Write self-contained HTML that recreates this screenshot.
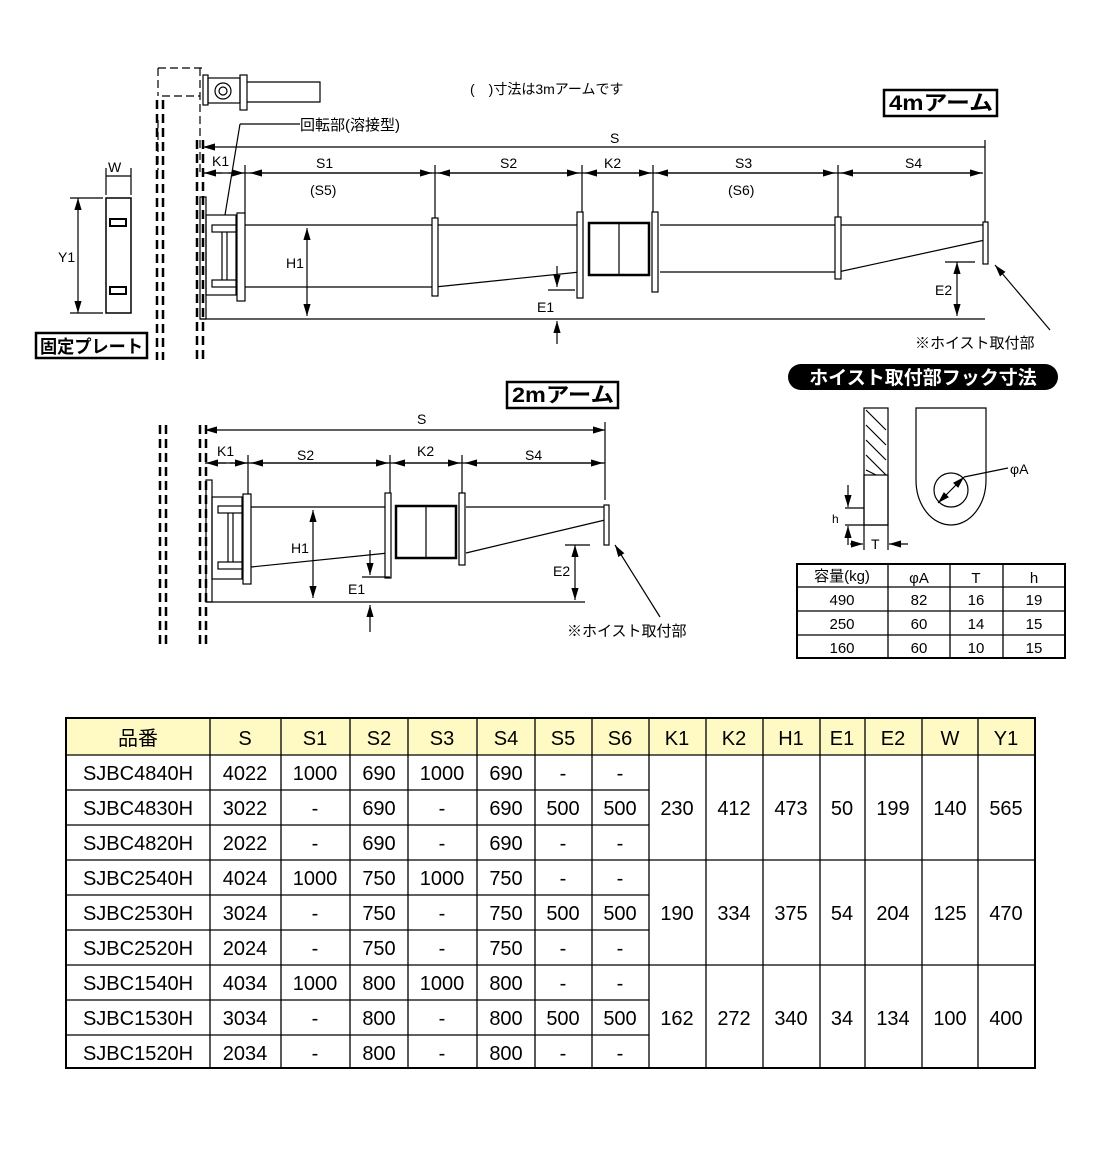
<!DOCTYPE html><html><head><meta charset="utf-8"><style>
body{margin:0;background:#fff;width:1100px;height:1150px;overflow:hidden}
svg text{font-family:"Liberation Sans","Noto Sans CJK JP",sans-serif;fill:#000}
</style></head><body>
<svg width="1100" height="1150" viewBox="0 0 1100 1150" xmlns="http://www.w3.org/2000/svg">
<defs><marker id="a" viewBox="0 0 10 6" refX="10" refY="3" markerWidth="10" markerHeight="6" orient="auto-start-reverse"><path d="M0,0L10,3L0,6z"/></marker></defs>
<g stroke="#000" fill="none" stroke-width="1.2">
<g stroke-width="2.5" stroke-dasharray="9,5">
<line x1="157" y1="100" x2="157" y2="360"/><line x1="163" y1="100" x2="163" y2="360"/>
<line x1="197" y1="140" x2="197" y2="360"/><line x1="203" y1="140" x2="203" y2="360"/>
<line x1="160" y1="425" x2="160" y2="648"/><line x1="166" y1="425" x2="166" y2="648"/>
<line x1="200" y1="425" x2="200" y2="648"/><line x1="206" y1="425" x2="206" y2="648"/>
</g>
<path d="M158,68h45M158,68v28M162,96h38M200,68v105M158,120v50" stroke-dasharray="8,4"/>
<rect x="203" y="75" width="5" height="30"/><rect x="208" y="78" width="32" height="25"/>
<circle cx="223" cy="91" r="8"/><circle cx="223" cy="91" r="4"/>
<rect x="240" y="75" width="7" height="35"/><path d="M247,82h73v20h-73"/>
<line x1="203" y1="147" x2="985" y2="147" marker-start="url(#a)"/><line x1="985" y1="140" x2="985" y2="230"/>
<line x1="203" y1="173" x2="983" y2="173"/>
<g marker-end="url(#a)"><line x1="222" y1="173" x2="204" y2="173"/><line x1="228" y1="173" x2="244" y2="173"/>
<line x1="340" y1="173" x2="250" y2="173"/><line x1="340" y1="173" x2="432" y2="173"/>
<line x1="510" y1="173" x2="438" y2="173"/><line x1="510" y1="173" x2="579" y2="173"/>
<line x1="615" y1="173" x2="585" y2="173"/><line x1="615" y1="173" x2="651" y2="173"/>
<line x1="745" y1="173" x2="656" y2="173"/><line x1="745" y1="173" x2="835" y2="173"/>
<line x1="910" y1="173" x2="841" y2="173"/><line x1="910" y1="173" x2="982" y2="173"/></g>
<line x1="245" y1="165" x2="245" y2="220"/><line x1="435" y1="165" x2="435" y2="220"/><line x1="582" y1="165" x2="582" y2="215"/><line x1="653" y1="165" x2="653" y2="215"/><line x1="838" y1="165" x2="838" y2="220"/>
<rect x="200" y="197" width="6" height="122"/><rect x="206" y="215" width="30" height="80"/>
<rect x="212" y="225" width="25" height="7"/><rect x="212" y="280" width="25" height="7"/>
<line x1="222" y1="232" x2="222" y2="280"/><line x1="227" y1="232" x2="227" y2="280"/>
<rect x="237" y="213" width="8" height="88" fill="#fff"/>
<path d="M245,225H580M245,287H435L580,272M660,225H985M660,272H838L985,240"/>
<rect x="432" y="218" width="6" height="78" fill="#fff"/>
<rect x="577" y="212" width="6" height="86" fill="#fff"/><rect x="652" y="212" width="6" height="80" fill="#fff"/>
<rect x="589" y="223" width="60" height="52" stroke-width="2.5"/><line x1="619" y1="223" x2="619" y2="275"/>
<rect x="835" y="217" width="6" height="62" fill="#fff"/><rect x="983" y="222" width="5" height="42" fill="#fff"/>
<line x1="200" y1="319" x2="985" y2="319"/>
<line x1="307" y1="228" x2="307" y2="316" marker-start="url(#a)" marker-end="url(#a)"/>
<line x1="557" y1="266" x2="557" y2="287" marker-end="url(#a)"/><line x1="557" y1="344" x2="557" y2="321" marker-end="url(#a)"/><line x1="548" y1="290" x2="575" y2="290"/>
<line x1="957" y1="262" x2="957" y2="316" marker-start="url(#a)" marker-end="url(#a)"/><line x1="945" y1="262" x2="975" y2="262"/>
<line x1="1050" y1="330" x2="995" y2="265" marker-end="url(#a)"/>
<line x1="300" y1="124" x2="240" y2="124"/><line x1="240" y1="124" x2="225" y2="215"/>
<rect x="106" y="198" width="25" height="115" stroke-width="1.5"/>
<rect x="110" y="219" width="16" height="7" stroke-width="2"/><rect x="110" y="287" width="16" height="7" stroke-width="2"/>
<line x1="106" y1="176" x2="131" y2="176"/><line x1="106" y1="168" x2="106" y2="195"/><line x1="131" y1="168" x2="131" y2="195"/>
<line x1="78" y1="198" x2="78" y2="313" marker-start="url(#a)" marker-end="url(#a)"/><line x1="70" y1="198" x2="103" y2="198"/><line x1="70" y1="313" x2="103" y2="313"/>
<line x1="205" y1="430" x2="605" y2="430" marker-start="url(#a)" marker-end="url(#a)"/><line x1="605" y1="422" x2="605" y2="500"/>
<line x1="205" y1="463" x2="605" y2="463"/>
<g marker-end="url(#a)"><line x1="226" y1="463" x2="206" y2="463"/><line x1="230" y1="463" x2="247" y2="463"/>
<line x1="310" y1="463" x2="251" y2="463"/><line x1="310" y1="463" x2="388" y2="463"/>
<line x1="425" y1="463" x2="393" y2="463"/><line x1="425" y1="463" x2="460" y2="463"/>
<line x1="535" y1="463" x2="465" y2="463"/><line x1="535" y1="463" x2="603" y2="463"/></g>
<line x1="248" y1="455" x2="248" y2="500"/><line x1="390" y1="455" x2="390" y2="495"/><line x1="462" y1="455" x2="462" y2="495"/>
<rect x="206" y="480" width="6" height="122"/><rect x="212" y="497" width="30" height="82"/>
<rect x="218" y="506" width="25" height="7"/><rect x="218" y="562" width="25" height="7"/>
<line x1="228" y1="513" x2="228" y2="562"/><line x1="233" y1="513" x2="233" y2="562"/>
<rect x="243" y="494" width="8" height="90" fill="#fff"/>
<path d="M251,507H388M251,567L388,553M466,507H605M466,553L605,520"/>
<rect x="385" y="493" width="6" height="85" fill="#fff"/><rect x="459" y="493" width="6" height="72" fill="#fff"/>
<rect x="396" y="506" width="60" height="52" stroke-width="2.5"/><line x1="426" y1="506" x2="426" y2="558"/>
<rect x="604" y="505" width="5" height="40" fill="#fff"/>
<line x1="206" y1="602" x2="585" y2="602"/>
<line x1="313" y1="510" x2="313" y2="598" marker-start="url(#a)" marker-end="url(#a)"/>
<line x1="370" y1="550" x2="370" y2="575" marker-end="url(#a)"/><line x1="370" y1="632" x2="370" y2="605" marker-end="url(#a)"/><line x1="362" y1="577" x2="390" y2="577"/>
<line x1="575" y1="545" x2="575" y2="600" marker-start="url(#a)" marker-end="url(#a)"/><line x1="565" y1="545" x2="590" y2="545"/>
<line x1="660" y1="617" x2="615" y2="545" marker-end="url(#a)"/>
<rect x="864" y="408" width="24" height="117"/><rect x="864" y="475" width="24" height="50"/>
<path d="M866,410L886,430M866,425L886,445M866,440L886,460M866,455L886,475M866,470L876,475" />
<path d="M916,408H986V480A35,45 0 0 1 916,480Z"/><circle cx="951" cy="490" r="17"/>
<line x1="938" y1="503" x2="964" y2="477" marker-start="url(#a)" marker-end="url(#a)"/><line x1="964" y1="477" x2="1008" y2="468"/>
<line x1="845" y1="508" x2="864" y2="508"/><line x1="845" y1="525" x2="864" y2="525"/>
<line x1="848" y1="485" x2="848" y2="507" marker-end="url(#a)"/><line x1="848" y1="545" x2="848" y2="526" marker-end="url(#a)"/>
<line x1="864" y1="525" x2="864" y2="550"/><line x1="888" y1="525" x2="888" y2="550"/>
<line x1="850" y1="544" x2="863" y2="544" marker-end="url(#a)"/><line x1="908" y1="544" x2="889" y2="544" marker-end="url(#a)"/>
<rect x="36" y="333" width="111" height="25" stroke-width="2.5"/>
<rect x="884" y="90" width="113" height="26" stroke-width="2.5"/>
<rect x="507" y="382" width="111" height="26" stroke-width="2.5"/>
</g>
<rect x="788" y="364" width="270" height="26" rx="13" fill="#000"/>
<text x="923" y="384" font-size="19" font-weight="bold" text-anchor="middle" style="fill:#fff">ホイスト取付部フック寸法</text>
<g font-size="14">
<text x="470" y="94">(　)寸法は3mアームです</text>
<text x="300" y="130" font-size="15">回転部(溶接型)</text>
<text x="610" y="143">S</text>
<text x="212" y="166">K1</text><text x="316" y="168">S1</text><text x="500" y="168">S2</text><text x="604" y="168">K2</text><text x="735" y="168">S3</text><text x="905" y="168">S4</text>
<text x="310" y="195">(S5)</text><text x="728" y="195">(S6)</text>
<text x="286" y="268">H1</text><text x="537" y="312">E1</text><text x="935" y="295">E2</text>
<text x="915" y="348" font-size="15">※ホイスト取付部</text>
<text x="108" y="172">W</text><text x="58" y="262">Y1</text>
<text x="417" y="424">S</text>
<text x="217" y="456">K1</text><text x="297" y="460">S2</text><text x="417" y="456">K2</text><text x="525" y="460">S4</text>
<text x="291" y="553">H1</text><text x="348" y="594">E1</text><text x="553" y="576">E2</text>
<text x="567" y="636" font-size="15">※ホイスト取付部</text>
<text x="1010" y="474">φA</text><text x="832" y="523" font-size="12">h</text><text x="871" y="549">T</text>
</g>
<text x="40" y="353" font-size="18" font-weight="bold" textLength="103" lengthAdjust="spacingAndGlyphs">固定プレート</text>
<text x="889" y="110" font-size="21" font-weight="bold" textLength="104" lengthAdjust="spacingAndGlyphs">4mアーム</text>
<text x="512" y="402" font-size="21" font-weight="bold" textLength="102" lengthAdjust="spacingAndGlyphs">2mアーム</text>
<g stroke="#000" stroke-width="1.3" fill="none">
<rect x="797" y="564" width="268" height="94" stroke-width="2"/>
<path d="M888,564V658M950,564V658M1003,564V658M797,587H1065M797,611H1065M797,635H1065"/>
</g>
<g font-size="15" text-anchor="middle">
<text x="842" y="581">容量(kg)</text><text x="919" y="583">φA</text><text x="976" y="583">T</text><text x="1034" y="583">h</text>
<text x="842" y="605">490</text><text x="919" y="605">82</text><text x="976" y="605">16</text><text x="1034" y="605">19</text>
<text x="842" y="629">250</text><text x="919" y="629">60</text><text x="976" y="629">14</text><text x="1034" y="629">15</text>
<text x="842" y="653">160</text><text x="919" y="653">60</text><text x="976" y="653">10</text><text x="1034" y="653">15</text>
</g>
<rect x="66" y="718" width="969" height="37" fill="#fff9c4"/>
<g stroke="#000" stroke-width="1.3" fill="none">
<rect x="66" y="718" width="969" height="350" stroke-width="2"/>
<path d="M210,718V1068M281,718V1068M350,718V1068M408,718V1068M477,718V1068M535,718V1068M592,718V1068M649,718V1068M706,718V1068M763,718V1068M820,718V1068M865,718V1068M922,718V1068M978,718V1068"/>
<path d="M66,755H1035M66,860H1035M66,965H1035M66,790H649M66,825H649M66,895H649M66,930H649M66,1000H649M66,1035H649"/>
</g>
<g font-size="20" text-anchor="middle">
<text x="138" y="745">品番</text><text x="245" y="745">S</text><text x="315" y="745">S1</text><text x="379" y="745">S2</text><text x="442" y="745">S3</text><text x="506" y="745">S4</text><text x="563" y="745">S5</text><text x="620" y="745">S6</text><text x="677" y="745">K1</text><text x="734" y="745">K2</text><text x="791" y="745">H1</text><text x="842" y="745">E1</text><text x="893" y="745">E2</text><text x="950" y="745">W</text><text x="1006" y="745">Y1</text>
<text x="138" y="780">SJBC4840H</text><text x="245" y="780">4022</text><text x="315" y="780">1000</text><text x="379" y="780">690</text><text x="442" y="780">1000</text><text x="506" y="780">690</text><text x="563" y="780">-</text><text x="620" y="780">-</text>
<text x="138" y="815">SJBC4830H</text><text x="245" y="815">3022</text><text x="315" y="815">-</text><text x="379" y="815">690</text><text x="442" y="815">-</text><text x="506" y="815">690</text><text x="563" y="815">500</text><text x="620" y="815">500</text>
<text x="138" y="850">SJBC4820H</text><text x="245" y="850">2022</text><text x="315" y="850">-</text><text x="379" y="850">690</text><text x="442" y="850">-</text><text x="506" y="850">690</text><text x="563" y="850">-</text><text x="620" y="850">-</text>
<text x="138" y="885">SJBC2540H</text><text x="245" y="885">4024</text><text x="315" y="885">1000</text><text x="379" y="885">750</text><text x="442" y="885">1000</text><text x="506" y="885">750</text><text x="563" y="885">-</text><text x="620" y="885">-</text>
<text x="138" y="920">SJBC2530H</text><text x="245" y="920">3024</text><text x="315" y="920">-</text><text x="379" y="920">750</text><text x="442" y="920">-</text><text x="506" y="920">750</text><text x="563" y="920">500</text><text x="620" y="920">500</text>
<text x="138" y="955">SJBC2520H</text><text x="245" y="955">2024</text><text x="315" y="955">-</text><text x="379" y="955">750</text><text x="442" y="955">-</text><text x="506" y="955">750</text><text x="563" y="955">-</text><text x="620" y="955">-</text>
<text x="138" y="990">SJBC1540H</text><text x="245" y="990">4034</text><text x="315" y="990">1000</text><text x="379" y="990">800</text><text x="442" y="990">1000</text><text x="506" y="990">800</text><text x="563" y="990">-</text><text x="620" y="990">-</text>
<text x="138" y="1025">SJBC1530H</text><text x="245" y="1025">3034</text><text x="315" y="1025">-</text><text x="379" y="1025">800</text><text x="442" y="1025">-</text><text x="506" y="1025">800</text><text x="563" y="1025">500</text><text x="620" y="1025">500</text>
<text x="138" y="1060">SJBC1520H</text><text x="245" y="1060">2034</text><text x="315" y="1060">-</text><text x="379" y="1060">800</text><text x="442" y="1060">-</text><text x="506" y="1060">800</text><text x="563" y="1060">-</text><text x="620" y="1060">-</text>
<text x="677" y="815">230</text><text x="734" y="815">412</text><text x="791" y="815">473</text><text x="842" y="815">50</text><text x="893" y="815">199</text><text x="950" y="815">140</text><text x="1006" y="815">565</text>
<text x="677" y="920">190</text><text x="734" y="920">334</text><text x="791" y="920">375</text><text x="842" y="920">54</text><text x="893" y="920">204</text><text x="950" y="920">125</text><text x="1006" y="920">470</text>
<text x="677" y="1025">162</text><text x="734" y="1025">272</text><text x="791" y="1025">340</text><text x="842" y="1025">34</text><text x="893" y="1025">134</text><text x="950" y="1025">100</text><text x="1006" y="1025">400</text>
</g>
</svg>
</body></html>
